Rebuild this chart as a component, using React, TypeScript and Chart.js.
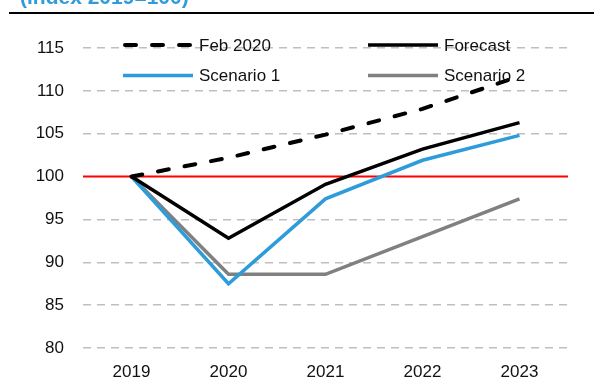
import { useEffect, useRef } from 'react';
import { Chart, registerables } from 'chart.js';

Chart.register(...registerables);

// Index levels, 2019 = 100
const years = ['2019', '2020', '2021', '2022', '2023'];
const feb2020 = [100, 102.2, 104.9, 107.9, 111.7];
const forecast = [100, 92.8, 99.1, 103.2, 106.3];
const scenario1 = [100, 87.5, 97.4, 101.9, 104.8];
const scenario2 = [100, 88.6, 88.6, 93.0, 97.4];

const yMin = 80;
const yMax = 115;
const yStep = 5;
const baseline = 100;
const subtitle = '(index 2019=100)';

const FONT = '"Liberation Sans", Arial, sans-serif';
const BLUE = '#2E9BDA';
const TEXT = '#111111';

// Subtitle above the chart plus the rule beneath it
const headerPlugin = {
  id: 'header',
  beforeDraw(chart: any) {
    const { ctx, width } = chart;
    ctx.save();
    ctx.fillStyle = BLUE;
    ctx.font = `bold 21px ${FONT}`;
    ctx.textBaseline = 'alphabetic';
    ctx.textAlign = 'left';
    ctx.fillText(subtitle, 20, 4);
    ctx.strokeStyle = '#000000';
    ctx.lineWidth = 2;
    ctx.beginPath();
    ctx.moveTo(9, 13);
    ctx.lineTo(width, 13);
    ctx.stroke();
    ctx.restore();
  },
};

// Solid red reference line at the index base, under the series
const baselinePlugin = {
  id: 'baseline',
  beforeDatasetsDraw(chart: any) {
    const { ctx, chartArea, scales } = chart;
    const y = scales.y.getPixelForValue(baseline);
    ctx.save();
    ctx.strokeStyle = '#FF0000';
    ctx.lineWidth = 2;
    ctx.beginPath();
    ctx.moveTo(chartArea.left, y);
    ctx.lineTo(chartArea.right, y);
    ctx.stroke();
    ctx.restore();
  },
};

// Two-column legend placed inside the plot area
const legendPlugin = {
  id: 'insideLegend',
  afterDatasetsDraw(chart: any) {
    const { ctx } = chart;
    const cols = [123, 368];
    const rows = [45, 75.5];
    const sample = 70;
    ctx.save();
    ctx.font = `17px ${FONT}`;
    ctx.textBaseline = 'middle';
    ctx.textAlign = 'left';
    chart.data.datasets.forEach((ds: any, i: number) => {
      const x = cols[i % 2];
      const y = rows[Math.floor(i / 2)];
      ctx.strokeStyle = ds.borderColor;
      ctx.lineWidth = ds.borderWidth;
      ctx.lineCap = ds.borderCapStyle || 'butt';
      ctx.setLineDash(ds.borderDash || []);
      ctx.beginPath();
      if (ds.borderDash) {
        ctx.moveTo(x + 2, y);
        ctx.lineTo(x + sample, y);
      } else {
        ctx.moveTo(x, y);
        ctx.lineTo(x + sample, y);
      }
      ctx.stroke();
      ctx.setLineDash([]);
      ctx.fillStyle = TEXT;
      ctx.fillText(ds.label, x + sample + 6, y + 1);
    });
    ctx.restore();
  },
};

export default function App() {
  const canvasRef = useRef<HTMLCanvasElement | null>(null);

  useEffect(() => {
    if (!canvasRef.current) return;
    const chart = new Chart(canvasRef.current, {
      type: 'line',
      data: {
        labels: years,
        datasets: [
          {
            label: 'Feb 2020',
            data: feb2020,
            borderColor: '#000000',
            borderWidth: 4,
            borderDash: [11, 16],
            borderCapStyle: 'round',
            pointRadius: 0,
            tension: 0,
          },
          {
            label: 'Forecast',
            data: forecast,
            borderColor: '#000000',
            borderWidth: 3.5,
            pointRadius: 0,
            tension: 0,
          },
          {
            label: 'Scenario 1',
            data: scenario1,
            borderColor: BLUE,
            borderWidth: 3.5,
            pointRadius: 0,
            tension: 0,
          },
          {
            label: 'Scenario 2',
            data: scenario2,
            borderColor: '#808080',
            borderWidth: 3.5,
            pointRadius: 0,
            tension: 0,
          },
        ],
      },
      options: {
        responsive: false,
        animation: false,
        layout: { padding: { top: 48, right: 26, bottom: 0, left: 0 } },
        plugins: {
          legend: { display: false },
          tooltip: { enabled: false },
          title: { display: false },
        },
        scales: {
          x: {
            offset: true,
            grid: { display: false, drawTicks: false },
            border: { display: false },
            ticks: {
              color: TEXT,
              font: { family: FONT, size: 17 },
              padding: 14,
              maxRotation: 0,
            },
            afterFit(scale: any) {
              scale.height = 33;
            },
          },
          y: {
            min: yMin,
            max: yMax,
            grid: {
              drawTicks: false,
              lineWidth: 1.5,
              color: (c: any) =>
                c.tick && c.tick.value === baseline ? 'rgba(0,0,0,0)' : '#BFBFBF',
            },
            border: { display: false, dash: [8, 6] },
            ticks: {
              stepSize: yStep,
              color: TEXT,
              font: { family: FONT, size: 17 },
              padding: 19,
            },
            afterFit(scale: any) {
              scale.width = 83;
            },
          },
        },
      },
      plugins: [headerPlugin, baselinePlugin, legendPlugin],
    } as any);
    return () => chart.destroy();
  }, []);

  return (
    <div style={{ position: 'absolute', left: 0, top: 0, width: 594, height: 381, background: '#ffffff' }}>
      <canvas ref={canvasRef} width={594} height={381} style={{ display: 'block' }} />
    </div>
  );
}
